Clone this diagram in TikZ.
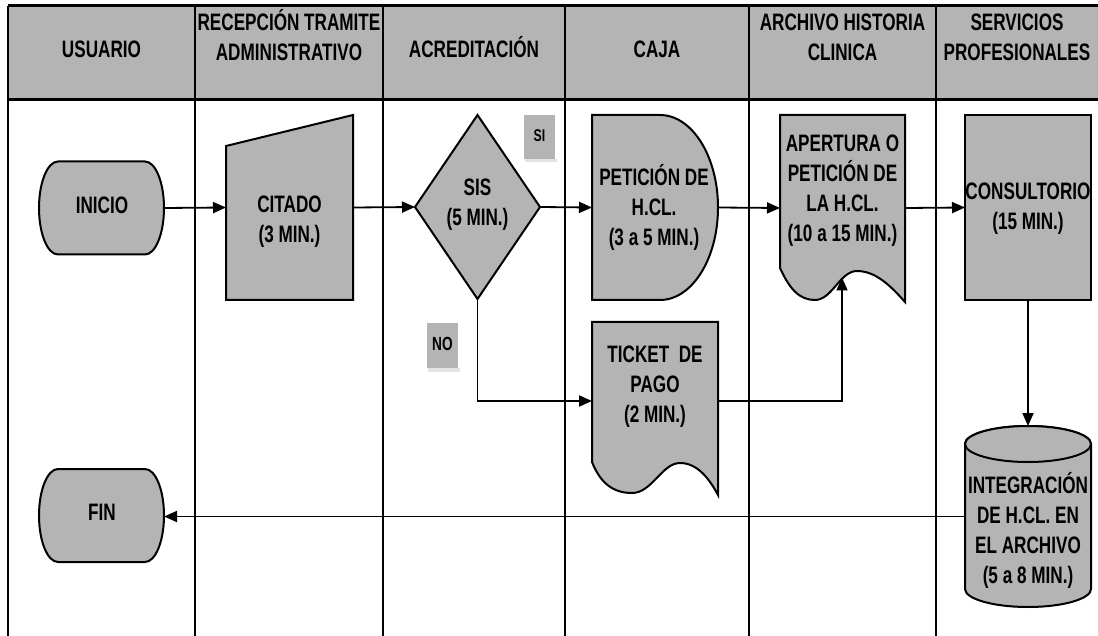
\documentclass[tikz,border=0pt]{standalone}
\usepackage{fontspec}
\newfontfamily\nf[FakeStretch=0.72]{Liberation Sans}
\usetikzlibrary{arrows.meta}
\definecolor{fillg}{RGB}{180,180,180}
\begin{document}
\begin{tikzpicture}[x=1pt,y=-1pt,
  txt/.style={font=\nf\bfseries\fontsize{23.8}{30}\selectfont, align=center, inner sep=0pt},
  smalltxt/.style={font=\nf\bfseries\fontsize{#1}{20}\selectfont, inner sep=0pt},
  bb/.style={inner sep=0pt, outer sep=0pt, draw=none},
  shp/.style={draw=black, line width=2pt, fill=fillg, line join=miter},
  arr/.style={line width=1.8pt, -{Triangle[length=13pt,width=11pt]}},
  grid/.style={line width=2pt},
  hline/.style={line width=3pt}]
\useasboundingbox (0,0) rectangle (1098,636);
% ---------- table ----------
\fill[fillg] (8,6) rectangle (1098,100);
\draw[hline] (8,6) -- (1098,6);
\draw[hline] (8,100) -- (1098,100);
\foreach \x in {8,195,383,565,749,936} \draw[grid] (\x,6) -- (\x,640);
\node[txt] (h1) at (101.5,49) {USUARIO};
\node[txt] (h2) at (289,35) {RECEPCIÓN TRAMITE\\ADMINISTRATIVO};
\node[txt] (h3) at (474,47) {ACREDITACIÓN};
\node[txt] (h4) at (657,49) {CAJA};
\node[txt] (h5) at (842.5,37.5) {ARCHIVO HISTORIA\\CLINICA};
\node[txt] (h6) at (1017,37.5) {SERVICIOS\\PROFESIONALES};
% ---------- shapes ----------
% INICIO
\draw[shp] (58,161.5) -- (145,161.5) arc[start angle=90,end angle=-90,x radius=19pt,y radius=46.5pt]
  -- (58,254.5) arc[start angle=270,end angle=90,x radius=19pt,y radius=46.5pt] -- cycle;
\node[bb, minimum width=125pt, minimum height=93pt] (inicio) at (101.5,208) {};
\node[txt] (inicioT) at (102,205) {INICIO};
% FIN
\draw[shp] (58,469) -- (145,469) arc[start angle=90,end angle=-90,x radius=19pt,y radius=46.5pt]
  -- (58,562) arc[start angle=270,end angle=90,x radius=19pt,y radius=46.5pt] -- cycle;
\node[bb, minimum width=125pt, minimum height=93pt] (fin) at (101.5,515.5) {};
\node[txt] (finT) at (102,512) {FIN};
% CITADO (manual input)
\draw[shp] (226,146) -- (353,115) -- (353,300) -- (226,300) -- cycle;
\node[bb, minimum width=127pt, minimum height=185pt] (citado) at (289.5,207.5) {};
\node[txt] (citadoT) at (289.5,222) {CITADO\\(3 MIN.)};
% SIS (decision)
\draw[shp] (415,207) -- (477.5,115) -- (540,207) -- (477.5,299) -- cycle;
\node[bb, minimum width=125pt, minimum height=184pt] (sis) at (477.5,207) {};
\node[txt] (sisT) at (477.5,205) {SIS\\(5 MIN.)};
% SI / NO labels
\fill[gray!22] (525,159) rectangle (557,162.5);
\fill[fillg] (524,115) rectangle (555,159);
\node[smalltxt=17] (si) at (539.5,135.5) {SI};
\fill[gray!22] (428,368) rectangle (460,371.5);
\fill[fillg] (427,323) rectangle (458,368);
\node[smalltxt=19] (no) at (442.5,344) {NO};
% PETICION (delay)
\draw[shp] (592,115) -- (660,115) arc[start angle=90,end angle=-90,x radius=58pt,y radius=92.5pt]
  -- (592,300) -- cycle;
\node[bb, minimum width=126pt, minimum height=185pt] (pet) at (655,207.5) {};
\node[txt] (petT) at (654,207) {PETICIÓN DE\\H.CL.\\(3 a 5 MIN.)};
% APERTURA (document)
\draw[shp] (780,115) -- (905,115) -- (905,302) .. controls (890,285) and (875,271) .. (857,271)
  .. controls (840,271) and (832,300) .. (815,300) .. controls (800,300) and (790,290) .. (780,268) -- cycle;
\node[bb, minimum width=125pt, minimum height=186pt] (ape) at (842.5,208) {};
\node[txt] (apeT) at (842.5,191) {APERTURA O\\PETICIÓN DE\\LA H.CL.\\(10 a 15 MIN.)};
\coordinate (apeIn) at (842,277.5);
% CONSULTORIO
\draw[shp] (965,115) rectangle (1091,300);
\node[bb, minimum width=126pt, minimum height=185pt] (cons) at (1028,207.5) {};
\node[txt] (consT) at (1028,209) {CONSULTORIO\\(15 MIN.)};
% TICKET (document)
\draw[shp] (592,322) -- (718,322) -- (718,495) .. controls (710,480) and (698,463) .. (680,463)
  .. controls (662,463) and (652,493) .. (632,493) .. controls (612,493) and (600,482) .. (592,462) -- cycle;
\node[bb, minimum width=126pt, minimum height=158pt] (tick) at (655,401) {};
\node[txt] (tickT) at (655,387) {TICKET~~DE\\PAGO\\(2 MIN.)};
% CYLINDER
\draw[shp] (965,444) -- (965,589) arc[start angle=180,end angle=360,x radius=63pt,y radius=18pt]
  -- (1091,444) arc[start angle=0,end angle=180,x radius=63pt,y radius=18pt] -- cycle;
\draw[shp] (1028,444) ellipse[x radius=63pt,y radius=18pt];
\node[bb, minimum width=126pt, minimum height=181pt] (cyl) at (1028,516.5) {};
\node[txt] (cylT) at (1028,530.5) {INTEGRACIÓN\\DE H.CL. EN\\EL ARCHIVO\\(5 a 8 MIN.)};
% ---------- connectors ----------
\draw[arr] (inicio.east) -- (citado.west);
\draw[arr] (citado.east) -- (sis.west);
\draw[arr] (sis.east) -- (pet.west);
\draw[arr] (pet.east) -- (ape.west);
\draw[arr] (ape.east) -- (cons.west);
\draw[arr] (sis.south) |- (tick.west);
\draw[arr] (tick.east) -| (apeIn);
\draw[arr] (cons.south) -- (cyl.north);
\draw[arr] (cyl.west) -- (cyl.west -| fin.east);
\end{tikzpicture}
\end{document}
